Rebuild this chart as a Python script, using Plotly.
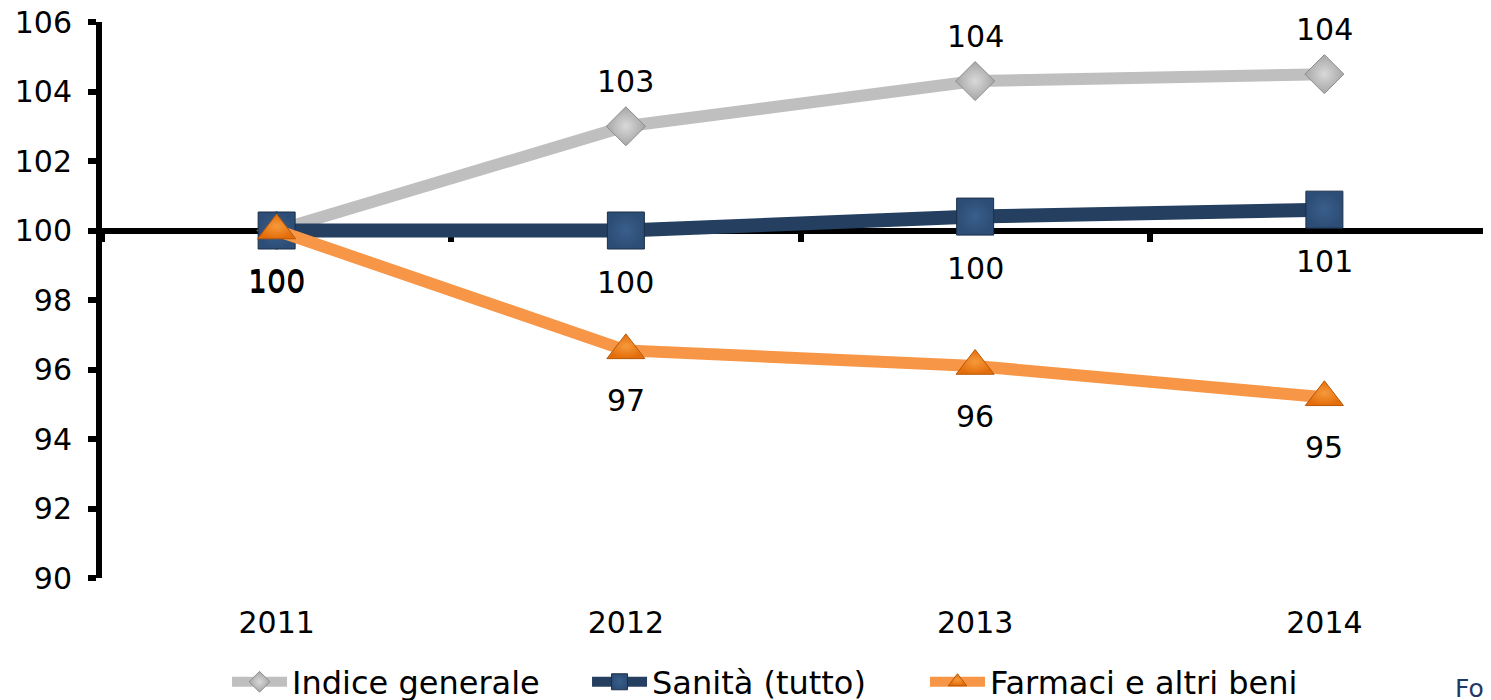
import plotly.graph_objects as go

years = ["2011", "2012", "2013", "2014"]
indice_generale = [100.0, 103.0, 104.3, 104.5]
sanita = [100.0, 100.0, 100.4, 100.6]
farmaci = [100.0, 96.55, 96.1, 95.2]
labels_indice = ["", "103", "104", "104"]
labels_sanita = ["100", "100", "100", "101"]
labels_farmaci = ["100", "97", "96", "95"]
y_ticks = [90, 92, 94, 96, 98, 100, 102, 104, 106]

FONT = "DejaVu Sans"
FS = 30

fig = go.Figure()

fig.add_trace(go.Scatter(
    x=years, y=indice_generale, name="Indice generale", mode="lines+markers",
    legend="legend",
    line=dict(color="#BFBFBF", width=12),
    marker=dict(symbol="diamond", size=30, color="#A6A6A6",
                gradient=dict(type="radial", color="#D9D9D9"),
                line=dict(color="#8C8C8C", width=1)),
))
fig.add_trace(go.Scatter(
    x=years, y=sanita, name="Sanità (tutto)", mode="lines+markers",
    legend="legend2",
    line=dict(color="#243F60", width=14),
    marker=dict(symbol="square", size=37, color="#2C4D75",
                gradient=dict(type="radial", color="#3A5F8C"),
                line=dict(color="#1B2F48", width=1)),
))
fig.add_trace(go.Scatter(
    x=years, y=farmaci, name="Farmaci e altri beni", mode="lines+markers",
    legend="legend3",
    line=dict(color="#F79646", width=12),
    marker=dict(symbol="triangle-up", size=33, color="#E46C0A",
                gradient=dict(type="radial", color="#F59A3C"),
                line=dict(color="#B65708", width=1)),
))
# helper trace for the crossing axis at y=100
fig.add_trace(go.Scatter(
    x=years, y=[100] * len(years), xaxis="x2", mode="markers",
    marker=dict(opacity=0), showlegend=False, hoverinfo="skip",
))

annotations = []
for series, labs, shift in [(indice_generale, labels_indice, 45),
                            (sanita, labels_sanita, -52),
                            (farmaci, labels_farmaci, -50)]:
    for i, (yv, lab) in enumerate(zip(series, labs)):
        if lab:
            annotations.append(dict(x=i, y=yv, xref="x", yref="y", text=lab, showarrow=False,
                                    yshift=shift, font=dict(family=FONT, size=FS, color="black")))

annotations.append(dict(x=0.967, y=-0.198, xref="paper", yref="paper", text="Fonte: Istat",
                        showarrow=False, xanchor="left", yanchor="middle",
                        font=dict(family=FONT, size=25, color="#1F3864")))


def leg(xpos):
    return dict(orientation="h", x=xpos, y=-0.187, xanchor="left", yanchor="middle",
                font=dict(family=FONT, size=32, color="black"), itemwidth=55,
                bgcolor="rgba(0,0,0,0)")


xr = [-0.5, 3.5]
fig.update_layout(
    template="none",
    width=1491, height=700,
    margin=dict(l=94, r=0, t=14, b=130, autoexpand=False),
    paper_bgcolor="white", plot_bgcolor="white",
    font=dict(family=FONT, size=FS, color="black"),
    showlegend=True,
    legend=leg(0.0895),
    legend2=leg(0.3472),
    legend3=leg(0.5891),
    xaxis=dict(type="category", categoryarray=years, range=xr, showline=False,
               showgrid=False, zeroline=False, ticks="", ticklabelstandoff=24,
               automargin=False, ticklabeloverflow="allow",
               tickfont=dict(family=FONT, size=FS)),
    xaxis2=dict(type="category", categoryarray=years, range=xr, overlaying="x",
                anchor="free", position=0.625, showline=True, linecolor="black",
                linewidth=6, ticks="outside", tickson="boundaries", ticklen=8,
                tickwidth=6, tickcolor="black", showticklabels=False, automargin=False,
                showgrid=False, zeroline=False, layer="below traces"),
    yaxis=dict(range=[90, 106], tickvals=y_ticks, showline=True, linecolor="black",
               linewidth=6, ticks="outside", ticklen=8, tickwidth=6, tickcolor="black",
               showgrid=False, zeroline=False, ticklabelstandoff=10, automargin=False,
               ticklabeloverflow="allow", tickfont=dict(family=FONT, size=FS)),
    annotations=annotations,
)

fig.write_html("out.html")
